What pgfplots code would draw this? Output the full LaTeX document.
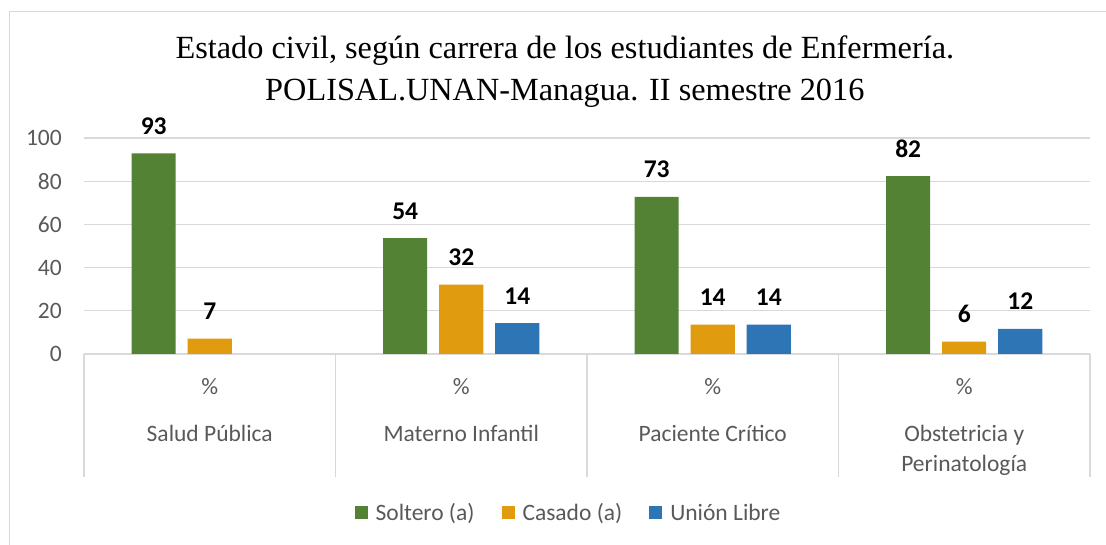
\documentclass[border=0pt]{standalone}
\usepackage{pgfplots}
\pgfplotsset{compat=1.18}
\usepackage{fontspec}
\setmainfont{Liberation Serif}
\newfontfamily\calib{Carlito}
\definecolor{cgreen}{HTML}{548235}
\definecolor{corange}{HTML}{E09C0E}
\definecolor{cblue}{HTML}{2E75B6}
\definecolor{cgrid}{HTML}{D9D9D9}
\definecolor{ctext}{HTML}{595959}
\pgfplotsset{sq/.style={legend image code/.code={\fill[##1] (0pt,-6.5pt) rectangle (13pt,6.5pt); \path (19pt,0pt);}}}
\begin{document}
\begin{tikzpicture}[x=1pt,y=1pt]
\begin{axis}[
  name=ax, clip=false,
  scale only axis, width=1006pt, height=216pt,
  xmin=-0.5, xmax=3.5, ymin=0, ymax=100,
  ybar, bar width=0.175,
  axis line style={draw=none},
  major tick length=0pt,
  ytick={0,20,...,100},
  ymajorgrids, grid style={cgrid,line width=1.3pt},
  /pgf/number format/assume math mode=true,
  yticklabel style={font=\calib\fontsize{23.5}{28}\selectfont, text=ctext, inner sep=0pt, xshift=-22pt, anchor=east},
  xtick={0,1,2,3},
  xticklabels={{\%\\[17pt]Salud Pública},{\%\\[17pt]Materno Infantil},{\%\\[17pt]Paciente Crítico},{\%\\[17pt]Obstetricia y\\Perinatología}},
  xticklabel style={font=\calib\fontsize{23.5}{30}\selectfont, text=ctext, align=center, anchor=north, inner sep=0pt, yshift=-24pt},
  nodes near coords={\pgfmathprintnumber[fixed,precision=0]{\pgfplotspointmeta}},
  every node near coord/.append style={font=\calib\bfseries\fontsize{25.5}{30}\selectfont, text=black, anchor=base, inner sep=0pt, yshift=19pt},
  title={Estado civil, según carrera de los estudiantes de Enfermería.\\POLISAL.UNAN-Managua. II semestre 2016},
  title style={font=\fontsize{32.3}{42}\selectfont, align=center, at={(0.478,1.278)}, anchor=center, inner sep=0pt},
  legend style={at={(0.4816,-0.736)}, anchor=center, draw=none, fill=none, legend columns=-1,
    font=\calib\fontsize{23.5}{28}\selectfont, text=ctext,
    /tikz/every even column/.append style={column sep=25pt}},
  legend cell align=left,
]
\addplot[fill=cgreen, draw=none, bar shift=-0.2227, sq] coordinates {(0,92.9) (1,53.6) (2,72.7) (3,82.4)};
\addplot[fill=corange, draw=none, bar shift=0, sq] coordinates {(0,7.1) (1,32.1) (2,13.6) (3,5.7)};
\addplot[fill=cblue, draw=none, bar shift=0.2227, sq] coordinates {(1,14.3) (2,13.6) (3,11.6)};
\legend{Soltero (a),Casado (a),Unión Libre}
\draw[cgrid,line width=1.3pt] (axis cs:-0.5,0) -- ++(0pt,-123pt);
\draw[cgrid,line width=1.3pt] (axis cs:0.5,0) -- ++(0pt,-123pt);
\draw[cgrid,line width=1.3pt] (axis cs:1.5,0) -- ++(0pt,-123pt);
\draw[cgrid,line width=1.3pt] (axis cs:2.5,0) -- ++(0pt,-123pt);
\draw[cgrid,line width=1.3pt] (axis cs:3.5,0) -- ++(0pt,-123pt);
\coordinate (O) at (axis cs:-0.5,0);
\end{axis}
\pgfresetboundingbox
\path[use as bounding box] ([shift={(-84pt,-191pt)}]O) rectangle ([shift={(1022pt,354pt)}]O);
\draw[cgrid,line width=1.3pt] ([shift={(-74.5pt,-210pt)}]O) -- ([shift={(-74.5pt,342.5pt)}]O) -- ([shift={(1040pt,342.5pt)}]O);
\end{tikzpicture}
\end{document}
